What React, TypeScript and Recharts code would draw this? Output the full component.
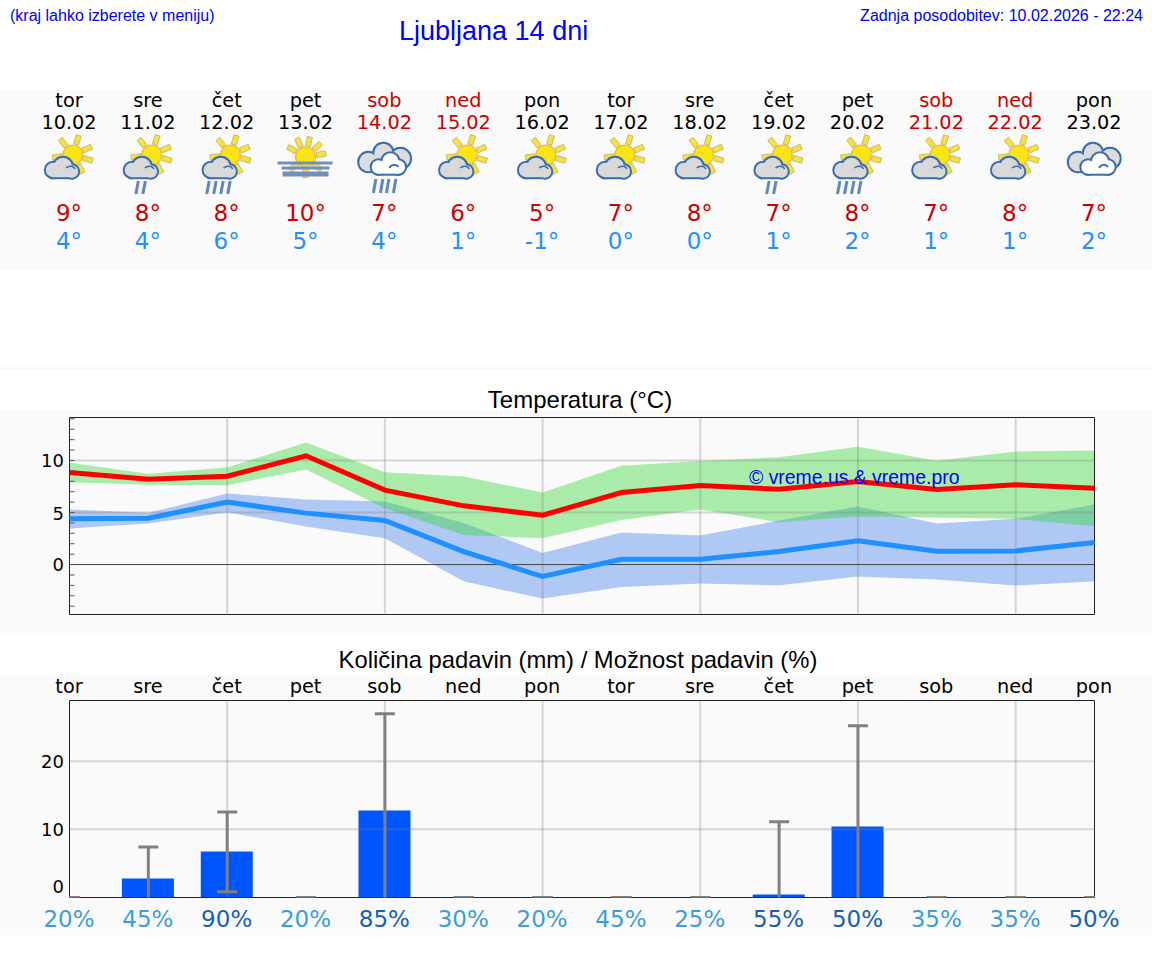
import React from "react";
import { ComposedChart, Area, Line, Bar, ErrorBar, XAxis, YAxis, ReferenceLine, ReferenceArea } from "recharts";

const weekdays = ["tor","sre","čet","pet","sob","ned","pon","tor","sre","čet","pet","sob","ned","pon"];
const dates = ["10.02","11.02","12.02","13.02","14.02","15.02","16.02","17.02","18.02","19.02","20.02","21.02","22.02","23.02"];
const weekendDays = ["sob","ned"];
const headerHigh = ["9°","8°","8°","10°","7°","6°","5°","7°","8°","7°","8°","7°","8°","7°"];
const headerLow = ["4°","4°","6°","5°","4°","1°","-1°","0°","0°","1°","2°","1°","1°","2°"];
const icons = ["sun","sunLight","sunRain","sunFog","cloudsRain","sun","sun","sun","sun","sunLight","sunRain","sun","sun","clouds"];

const maxLine = [8.85,8.2,8.49,10.45,7.15,5.64,4.74,6.92,7.6,7.24,7.98,7.21,7.66,7.34];
const maxBandLow = [7.92,7.66,7.63,9.13,5.42,2.85,2.53,4.29,5.29,4.07,4.62,4.52,4.39,3.69];
const maxBandHigh = [9.78,8.72,9.33,11.73,8.88,8.46,6.92,9.49,9.94,10.32,11.31,9.97,10.87,10.96];
const minLine = [4.39,4.45,6.0,4.94,4.23,1.25,-1.15,0.51,0.51,1.25,2.28,1.28,1.31,2.12];
const minBandLow = [3.46,3.94,5.03,3.65,2.53,-1.6,-3.27,-2.15,-1.83,-1.99,-1.15,-1.44,-2.02,-1.6];
const minBandHigh = [5.29,4.97,6.83,6.25,6.06,4.0,1.12,3.08,2.79,4.23,5.58,3.94,4.39,5.77];

const rain = [0,2.8,6.75,0,12.76,0,0,0,0,0.45,10.4,0,0,0];
// lower whiskers of the rainy days run off the axis, so their caps fall below the clipped plot
const rainLow = [0,-0.6,0.83,0,-0.6,0,0,0,0,-0.6,-0.6,0,0,0];
const rainHigh = [0,7.4,12.56,0,26.95,0,0,0,0,11.1,25.2,0,0,0];
const rainChance = [20,45,90,20,85,30,20,45,25,55,50,35,35,50];

const tempTicks = [-4,-3,-2,-1,0,1,2,3,4,5,6,7,8,9,10,11,12,13,14];
const tempLabelled = [0,5,10];
const rainTicks = [0,10,20];
const gridDays = ["12.02","14.02","16.02","18.02","20.02","22.02"];
const TEMP_DOMAIN = [-4.8,14.13];
const RAIN_DOMAIN = [0,28.9];

const tempTable = dates.map((d,i)=>({date:d,max:maxLine[i],min:minLine[i],maxBand:[maxBandLow[i],maxBandHigh[i]],minBand:[minBandLow[i],minBandHigh[i]]}));
const rainTable = dates.map((d,i)=>({date:d,rain:rain[i],err:[rain[i]-rainLow[i],rainHigh[i]-rain[i]]}));

const SANS = "'DejaVu Sans', sans-serif";
const ARIAL = "'Liberation Sans', Arial, sans-serif";
const PLOT_LEFT = 69.5;
const colX = (i:number)=>69+i*(1094-69)/13;
const GRID = "rgba(128,128,128,0.3)";

function TempTick(props:any){
  const {y,payload}=props;
  const v=payload.value;
  return <g>
    <line x1={PLOT_LEFT} x2={PLOT_LEFT+5} y1={y} y2={y} stroke="#555" strokeWidth={1}/>
    {tempLabelled.includes(v) && <text x={64} y={v===0?y+6.5:y+7} textAnchor="end" fontSize={18} fontFamily={SANS} fill="#000">{v}</text>}
  </g>;
}
function RainTick(props:any){
  const {y,payload}=props;
  const v=payload.value;
  return <text x={64} y={v===0?y-4.5:y+7} textAnchor="end" fontSize={18} fontFamily={SANS} fill="#000">{v}</text>;
}
function TopTick(props:any){
  const {x,index}=props;
  return <text x={x-0.5} y={58} textAnchor="middle" fontSize={19.3} fontFamily={SANS} fill="#000">{weekdays[index]}</text>;
}
function ChanceTick(props:any){
  const {x,index}=props;
  const v=rainChance[index];
  return <text x={x-0.5} y={292} textAnchor="middle" fontSize={23} fontFamily={SANS} fill={v>=50?"#1660b4":"#3a9fd9"}>{v}%</text>;
}

const RAY = "#f5e23c";
function Sun({cx,cy,angles}:{cx:number;cy:number;angles:number[]}){
  return <g>
    {angles.map(a=><rect key={a} x={11} y={-2.6} width={9.5} height={5.2} fill={RAY} stroke="#b8ad66" strokeWidth={0.7} transform={`translate(${cx} ${cy}) rotate(${a})`}/>)}
    <circle cx={cx} cy={cy} r={10} fill="#f9e610" stroke="#f2b04a" strokeWidth={1.2}/>
  </g>;
}
const STROKE = "#3a6cb4";
const cloudLobes = [[-16,15,7.2],[-6,12,9.2],[3,16.5,6.2]];
const backLobes = [[-16,7,9.2],[16,3.5,9.7],[-1,-2,9.2]];
const frontLobes = [[-6,12,6.7],[6,6.5,8.2],[14,12,6.7]];
function Lobes({lobes,fill,x,w,y,h}:{lobes:number[][];fill:string;x:number;w:number;y:number;h:number}){
  return <g>
    {lobes.map((l,i)=><circle key={"s"+i} cx={l[0]} cy={l[1]} r={l[2]} fill={STROKE} stroke={STROKE} strokeWidth={4}/>)}
    <rect x={x} y={y} width={w} height={h} fill={STROKE} stroke={STROKE} strokeWidth={4}/>
    {lobes.map((l,i)=><circle key={"f"+i} cx={l[0]} cy={l[1]} r={l[2]} fill={fill}/>)}
    <rect x={x} y={y} width={w} height={h} fill={fill}/>
  </g>;
}
function SmallCloud(){
  return <g>
    <Lobes lobes={cloudLobes} fill="#d9d9d9" x={-16} w={19} y={15} h={7.2}/>
    <path d="M-3 13 C0 10 5 11 6 14" fill="none" stroke={STROKE} strokeWidth={1.6}/>
  </g>;
}
function Drops({xs,y0,y1}:{xs:number[];y0:number;y1:number}){
  return <g>{xs.map(x=><line key={x} x1={x+1.5} y1={y0} x2={x-1} y2={y1} stroke="#6187c0" strokeWidth={3}/>)}</g>;
}
const SUN_ANGLES = [-128,-73,-24,16,61,173];
function DoubleCloud(){
  return <g>
    <Lobes lobes={backLobes} fill="#dcdcdc" x={-16} w={32} y={2} h={14}/>
    <Lobes lobes={frontLobes} fill="#fff" x={-6} w={20} y={12} h={6.7}/>
    <path d="M5 13 C7 9 12 9 14 12" fill="none" stroke={STROKE} strokeWidth={2}/>
  </g>;
}
function WeatherIcon({kind}:{kind:string}){
  if(kind==="sunFog"){
    return <g>
      <Sun cx={0} cy={2} angles={[-150,-115,-78,-42,-10,40,90,140]}/>
      <rect x={-28} y={6.5} width={55} height={3} fill="#6f90c0"/>
      <rect x={-24} y={11.5} width={48} height={3} fill="#6f90c0"/>
      <rect x={-23} y={16.5} width={46} height={5} fill="#6f90c0"/>
    </g>;
  }
  if(kind==="clouds"||kind==="cloudsRain"){
    return <g>
      <DoubleCloud/>
      {kind==="cloudsRain" && <Drops xs={[-10,-3,3,10]} y0={24} y1={38}/>}
    </g>;
  }
  return <g>
    <Sun cx={3.8} cy={0} angles={SUN_ANGLES}/>
    <SmallCloud/>
    {kind==="sunLight" && <Drops xs={[-11,-4]} y0={26} y1={39}/>}
    {kind==="sunRain" && <Drops xs={[-19,-12,-5,2]} y0={26} y1={39}/>}
  </g>;
}

function Panel({top,height}:{top:number;height:number}){
  return <div style={{position:"absolute",left:0,top,width:1152,height,background:"#fafafa"}}/>;
}

export default function App(){
  return <div style={{position:"absolute",left:0,top:0,width:1152,height:975,overflow:"hidden",background:"#fff"}}>
    <Panel top={90} height={180}/>
    <Panel top={365} height={5}/>
    <Panel top={410} height={225}/>
    <Panel top={675} height={260}/>

    <div style={{position:"absolute",left:0,top:410}}>
      <ComposedChart width={1152} height={225} data={tempTable} margin={{top:7.5,right:57.5,bottom:0,left:0}}>
        <XAxis dataKey="date" scale="point" height={20.5} tick={false} tickLine={false} axisLine={false} allowDuplicatedCategory={false}/>
        <YAxis type="number" domain={TEMP_DOMAIN} ticks={tempTicks} width={69.5} tick={<TempTick/>} tickLine={false} axisLine={false} interval={0} allowDataOverflow/>
        {gridDays.map(d=><ReferenceLine key={d} x={d} stroke={GRID} strokeWidth={2}/>)}
        <ReferenceLine y={5} stroke={GRID} strokeWidth={2}/>
        <ReferenceLine y={10} stroke={GRID} strokeWidth={2}/>
        <ReferenceLine y={0} stroke="#444" strokeWidth={1}/>
        <Area dataKey="minBand" type="linear" fill="#6495ed" fillOpacity={0.5} stroke="none" isAnimationActive={false} dot={false} activeDot={false}/>
        <Area dataKey="maxBand" type="linear" fill="#30d830" fillOpacity={0.4} stroke="none" isAnimationActive={false} dot={false} activeDot={false}/>
        <Line dataKey="min" type="linear" stroke="#1e90ff" strokeWidth={5} dot={false} activeDot={false} isAnimationActive={false}/>
        <Line dataKey="max" type="linear" stroke="#ff0000" strokeWidth={5} dot={false} activeDot={false} isAnimationActive={false}/>
        <ReferenceArea x1={dates[0]} x2={dates[13]} y1={TEMP_DOMAIN[0]} y2={TEMP_DOMAIN[1]} fill="none" stroke="#222" strokeWidth={1} ifOverflow="visible"/>
      </ComposedChart>
    </div>

    <div style={{position:"absolute",left:0,top:635}}>
      <ComposedChart width={1152} height={300} data={rainTable} margin={{top:0,right:57.5,bottom:0,left:0}}>
        <XAxis dataKey="date" scale="point" height={37.5} tick={<ChanceTick/>} tickLine={false} axisLine={false} interval={0}/>
        <XAxis xAxisId="top" orientation="top" dataKey="date" scale="point" height={65.5} tick={<TopTick/>} tickLine={false} axisLine={false} interval={0}/>
        <YAxis type="number" domain={RAIN_DOMAIN} ticks={rainTicks} width={69.5} tick={<RainTick/>} tickLine={false} axisLine={false} interval={0} allowDataOverflow/>
        {gridDays.map(d=><ReferenceLine key={d} x={d} stroke={GRID} strokeWidth={2}/>)}
        <ReferenceLine y={10} stroke={GRID} strokeWidth={2}/>
        <ReferenceLine y={20} stroke={GRID} strokeWidth={2}/>
        <Bar dataKey="rain" fill="#0055ff" barSize={52} isAnimationActive={false}/>
        <ReferenceArea x1={dates[0]} x2={dates[13]} y1={RAIN_DOMAIN[0]} y2={RAIN_DOMAIN[1]} fill="none" stroke="#222" strokeWidth={1} ifOverflow="visible"/>
      </ComposedChart>
    </div>

    <div style={{position:"absolute",left:0,top:635,width:1152,height:300,clipPath:"inset(65.5px 57.5px 37.5px 69.5px)"}}>
      <ComposedChart width={1152} height={300} data={rainTable} margin={{top:65.5,right:57.5,bottom:37.5,left:69.5}}>
        <XAxis dataKey="date" scale="point" hide/>
        <YAxis type="number" domain={RAIN_DOMAIN} hide allowDataOverflow/>
        <Line dataKey="rain" stroke="none" dot={false} activeDot={false} isAnimationActive={false}>
          <ErrorBar dataKey="err" direction="y" width={10} stroke="#808080" strokeWidth={3} isAnimationActive={false}/>
        </Line>
      </ComposedChart>
    </div>

    <svg width={1152} height={975} style={{position:"absolute",left:0,top:0,pointerEvents:"none"}}>
      <text x={10} y={21} fontSize={16} fontFamily={ARIAL} fill="#0000ff">(kraj lahko izberete v meniju)</text>
      <text x={399} y={40} fontSize={27} fontFamily={ARIAL} fill="#0000ff">Ljubljana 14 dni</text>
      <text x={1143} y={21} textAnchor="end" fontSize={16} fontFamily={ARIAL} fill="#0000ff">Zadnja posodobitev: 10.02.2026 - 22:24</text>
      <text x={580} y={408} textAnchor="middle" fontSize={24} fontFamily={ARIAL} fill="#000">Temperatura (°C)</text>
      <text x={578} y={668} textAnchor="middle" fontSize={23.8} fontFamily={ARIAL} fill="#000">Količina padavin (mm) / Možnost padavin (%)</text>
      <text x={749} y={484} fontSize={19.4} fontFamily={ARIAL} fill="#0000ff">© vreme.us &amp; vreme.pro</text>
      {dates.map((d,i)=>{
        const c=colX(i);
        const col=weekendDays.includes(weekdays[i])?"#cc0000":"#000";
        return <g key={d}>
          <text x={c} y={106.5} textAnchor="middle" fontSize={19.3} fontFamily={SANS} fill={col}>{weekdays[i]}</text>
          <text x={c} y={129} textAnchor="middle" fontSize={19.3} fontFamily={SANS} fill={col}>{d}</text>
          <g transform={`translate(${c} 155)`}><WeatherIcon kind={icons[i]}/></g>
          <text x={c} y={221} textAnchor="middle" fontSize={23} fontFamily={SANS} fill="#cc0000">{headerHigh[i]}</text>
          <text x={c} y={248.5} textAnchor="middle" fontSize={23} fontFamily={SANS} fill="#1e90ff">{headerLow[i]}</text>
        </g>;
      })}
    </svg>
  </div>;
}
